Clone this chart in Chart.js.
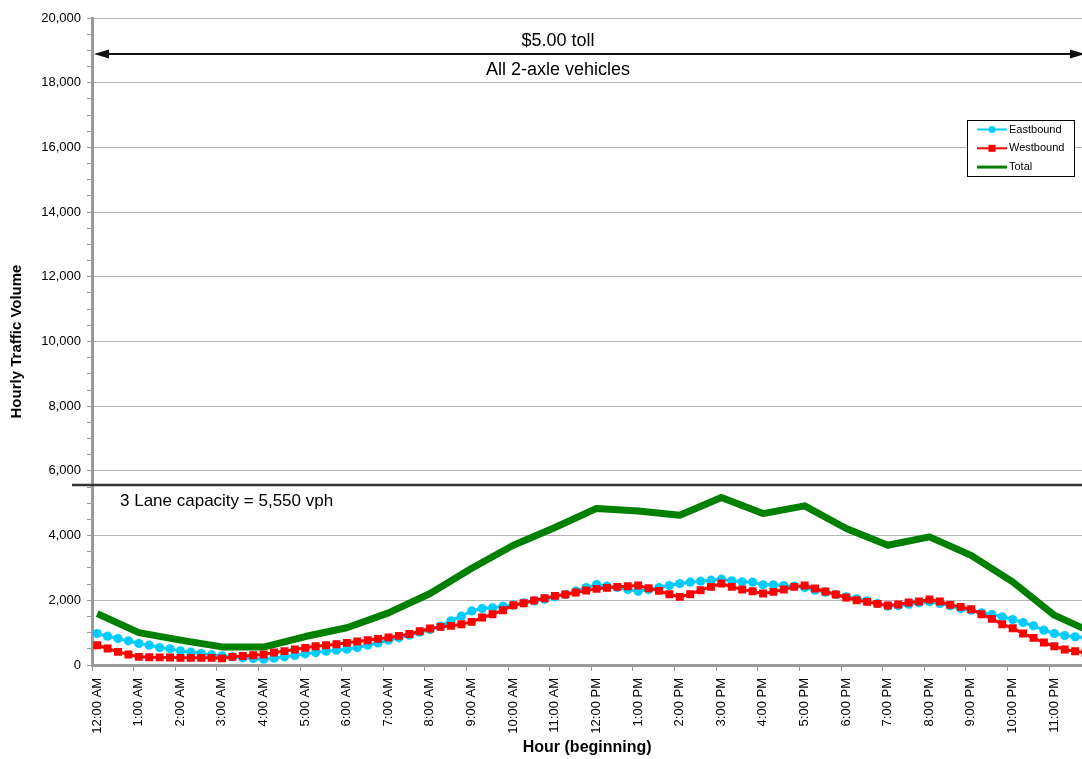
<!DOCTYPE html>
<html>
<head>
<meta charset="utf-8">
<script src="https://cdn.jsdelivr.net/npm/chart.js@4.4.0/dist/chart.umd.min.js"></script>
<style>
  html, body { margin: 0; padding: 0; background: #fff; overflow: hidden; width: 1082px; height: 759px; }
  canvas { display: block; }
</style>
</head>
<body>
<!-- a little wider than the window: the plot runs off the right edge as in the original -->
<canvas id="traffic" width="1088" height="759"></canvas>
<script>
// hour labels on the x axis
const hourLabels = ['12:00 AM','1:00 AM','2:00 AM','3:00 AM','4:00 AM','5:00 AM','6:00 AM','7:00 AM',
  '8:00 AM','9:00 AM','10:00 AM','11:00 AM','12:00 PM','1:00 PM','2:00 PM','3:00 PM',
  '4:00 PM','5:00 PM','6:00 PM','7:00 PM','8:00 PM','9:00 PM','10:00 PM','11:00 PM'];

// 15-minute volumes (vph), 96 per direction
const eastbound = [
  973, 890, 818, 746, 664, 612, 540, 499, 437, 395, 354, 313, 282, 252, 221, 200,
  180, 210, 252, 293, 344, 385, 427, 457, 488, 540, 612, 684, 766, 839, 921, 1014,
  1097, 1200, 1364, 1509, 1673, 1745, 1766, 1818, 1849, 1921, 1983, 2035, 2107, 2179, 2282, 2395,
  2488, 2436, 2395, 2333, 2282, 2333, 2395, 2457, 2518, 2560, 2591, 2622, 2653, 2601, 2570, 2560,
  2477, 2477, 2457, 2436, 2395, 2313, 2251, 2179, 2107, 2045, 1983, 1900, 1818, 1838, 1880, 1921,
  1952, 1900, 1828, 1745, 1694, 1612, 1560, 1488, 1405, 1313, 1210, 1076, 973, 911, 870, 839
];
const westbound = [
  612, 509, 405, 323, 252, 242, 235, 230, 221, 221, 221, 221, 205, 252, 280, 303,
  323, 385, 430, 478, 530, 580, 610, 643, 684, 725, 766, 808, 849, 900, 960, 1045,
  1127, 1178, 1210, 1261, 1333, 1467, 1570, 1694, 1849, 1910, 1993, 2065, 2137, 2179, 2240, 2302,
  2354, 2385, 2416, 2436, 2457, 2375, 2292, 2189, 2107, 2189, 2313, 2416, 2518, 2416, 2333, 2282,
  2210, 2261, 2333, 2416, 2457, 2364, 2271, 2179, 2086, 2004, 1952, 1890, 1838, 1869, 1931, 1962,
  2024, 1962, 1859, 1797, 1725, 1570, 1426, 1261, 1138, 973, 839, 694, 581, 478, 427, 375
];
// hourly totals, plus the 11:45 PM value where the line runs off the edge
const totalHourly = [1590, 1000, 770, 560, 555, 880, 1150, 1610, 2210, 2990, 3700, 4250,
  4840, 4760, 4630, 5180, 4680, 4920, 4220, 3700, 3960, 3390, 2570, 1540];
const totalLast = 1100;

const capacity = 5550;
const tollLevel = 18900;

const FONT = '"Liberation Sans", Arial, sans-serif';
Chart.defaults.font.family = FONT;
Chart.defaults.color = '#000';

// x is in hours; each 15 min slot is plotted at its middle
const slotX = i => (i + 0.5) / 4;
const eastPts = eastbound.map((v, i) => ({ x: slotX(i), y: v }));
const westPts = westbound.map((v, i) => ({ x: slotX(i), y: v }));
const totalPts = totalHourly.map((v, h) => ({ x: slotX(h * 4), y: v }));
totalPts.push({ x: slotX(95), y: totalLast });

const notes = {
  id: 'notes',
  afterDatasetsDraw(chart) {
    const { ctx, chartArea: a, scales: { x, y } } = chart;
    const edge = 1082; // visible right edge of the page
    ctx.save();

    // capacity line
    const yc = Math.round(y.getPixelForValue(capacity));
    ctx.strokeStyle = '#333';
    ctx.lineWidth = 2.5;
    ctx.beginPath();
    ctx.moveTo(a.left - 20, yc);
    ctx.lineTo(a.right, yc);
    ctx.stroke();
    ctx.fillStyle = '#000';
    ctx.font = '17px ' + FONT;
    ctx.textAlign = 'left';
    ctx.textBaseline = 'middle';
    ctx.fillText('3 Lane capacity = 5,550 vph', a.left + 28, yc + 16);

    // toll period arrow
    const ya = Math.round(y.getPixelForValue(tollLevel));
    const x0 = a.left + 2, x1 = edge + 3;
    ctx.strokeStyle = '#111';
    ctx.fillStyle = '#111';
    ctx.lineWidth = 2;
    ctx.beginPath();
    ctx.moveTo(x0 + 6, ya);
    ctx.lineTo(x1 - 6, ya);
    ctx.stroke();
    ctx.beginPath();
    ctx.moveTo(x0, ya); ctx.lineTo(x0 + 15, ya - 4.5); ctx.lineTo(x0 + 15, ya + 4.5);
    ctx.closePath(); ctx.fill();
    ctx.beginPath();
    ctx.moveTo(x1, ya); ctx.lineTo(x1 - 15, ya - 4.5); ctx.lineTo(x1 - 15, ya + 4.5);
    ctx.closePath(); ctx.fill();

    ctx.fillStyle = '#000';
    ctx.font = '18px ' + FONT;
    ctx.textAlign = 'center';
    const xt = x.getPixelForValue(11.2);
    ctx.fillText('$5.00 toll', xt, y.getPixelForValue(19300));
    ctx.fillText('All 2-axle vehicles', xt, y.getPixelForValue(18400));

    // legend box
    const bx = edge - 115, by = 120, bw = 107, bh = 56;
    ctx.fillStyle = '#fff';
    ctx.fillRect(bx, by, bw, bh);
    ctx.strokeStyle = '#000';
    ctx.lineWidth = 1;
    ctx.strokeRect(bx + 0.5, by + 0.5, bw, bh);
    ctx.font = '11px ' + FONT;
    ctx.textAlign = 'left';
    chart.data.datasets.forEach((ds, i) => {
      const ry = by + 9.5 + i * 18.8;
      ctx.strokeStyle = ds.borderColor;
      ctx.lineWidth = i === 2 ? 3 : 2;
      ctx.beginPath();
      ctx.moveTo(bx + 10, ry);
      ctx.lineTo(bx + 40, ry);
      ctx.stroke();
      ctx.fillStyle = ds.borderColor;
      if (ds.pointStyle === 'circle') {
        ctx.beginPath(); ctx.arc(bx + 25, ry, 3.5, 0, Math.PI * 2); ctx.fill();
      } else if (ds.pointStyle === 'rect') {
        ctx.fillRect(bx + 21.5, ry - 3.5, 7, 7);
      }
      ctx.fillStyle = '#000';
      ctx.fillText(ds.label, bx + 42, ry);
    });
    ctx.restore();
  }
};

new Chart(document.getElementById('traffic'), {
  type: 'line',
  data: {
    datasets: [
      {
        label: 'Eastbound', data: eastPts,
        borderColor: '#00CCFF', backgroundColor: '#00CCFF', pointBackgroundColor: '#00CCFF',
        borderWidth: 3, pointStyle: 'circle', pointRadius: 4.6, pointBorderWidth: 0, order: 3
      },
      {
        label: 'Westbound', data: westPts,
        borderColor: '#FF0000', backgroundColor: '#FF0000', pointBackgroundColor: '#FF0000',
        borderWidth: 3, pointStyle: 'rect', pointRadius: 5.6, pointBorderWidth: 0, order: 2
      },
      {
        label: 'Total', data: totalPts,
        borderColor: '#008000', backgroundColor: '#008000',
        borderWidth: 7, pointRadius: 0, borderJoinStyle: 'round', order: 1
      }
    ]
  },
  options: {
    responsive: false,
    animation: false,
    layout: { padding: { top: 18, left: 0, right: 0, bottom: 0 } },
    plugins: { legend: { display: false }, tooltip: { enabled: false } },
    scales: {
      x: {
        type: 'linear', min: 0, max: 23.8,
        border: { color: '#9a9a9a', width: 3 },
        grid: { drawOnChartArea: false, color: '#9a9a9a', tickLength: 6 },
        ticks: {
          stepSize: 1, includeBounds: false, autoSkip: false,
          minRotation: 90, maxRotation: 90, labelOffset: 5, padding: 7,
          font: { size: 13 },
          callback: v => hourLabels[v] ?? ''
        },
        title: {
          display: true, text: 'Hour (beginning)',
          font: { size: 16, weight: 'bold' }, padding: { top: 0, bottom: 2 }
        },
        afterFit: s => { s.height = 94; }
      },
      y: {
        min: 0, max: 20000,
        border: { color: '#9a9a9a', width: 3 },
        grid: {
          color: c => (c.tick && c.tick.value % 2000 === 0) ? '#b4b4b4' : 'rgba(0,0,0,0)',
          tickColor: '#9a9a9a', tickLength: 5
        },
        ticks: {
          stepSize: 500, autoSkip: false, padding: 6,
          font: { size: 13 },
          callback: v => v % 2000 === 0 ? v.toLocaleString('en-US') : ''
        },
        title: {
          display: true, text: 'Hourly Traffic Volume',
          font: { size: 15, weight: 'bold' }, padding: { top: 8, bottom: 0 }
        },
        afterFit: s => { s.width = 92; }
      }
    }
  },
  plugins: [notes]
});
</script>
</body>
</html>
